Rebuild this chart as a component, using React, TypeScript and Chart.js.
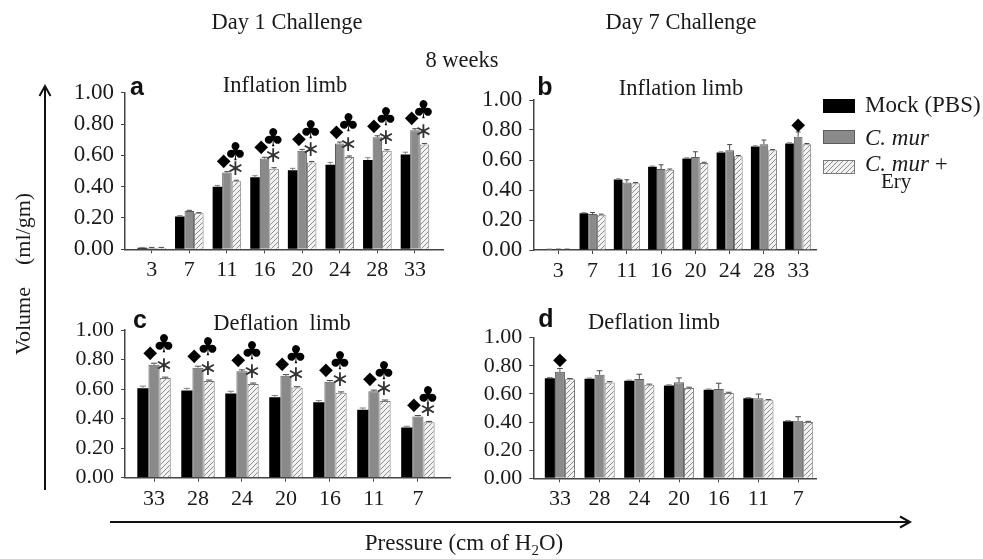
import React, { useEffect, useRef } from 'react';
import { Chart, registerables } from 'chart.js';
Chart.register(...registerables);

const SERIF = "'Liberation Serif', 'Times New Roman', serif";
const SANS = "'Liberation Sans', Arial, sans-serif";

// ---------- data ----------
const inflationCats = ['3', '7', '11', '16', '20', '24', '28', '33'];
const deflationCats = ['33', '28', '24', '20', '16', '11', '7'];
const yTickValues = [0, 0.2, 0.4, 0.6, 0.8, 1.0];
const seriesLabels = ['Mock (PBS)', 'C. mur', 'C. mur + Ery'];

// panel a: Day 1, inflation
const aMock = [0.01, 0.21, 0.40, 0.46, 0.505, 0.54, 0.57, 0.605];
const aCmur = [0.01, 0.245, 0.49, 0.58, 0.63, 0.675, 0.715, 0.76];
const aEry = [0.01, 0.23, 0.435, 0.515, 0.555, 0.59, 0.63, 0.67];
const aMockErr = [0.002, 0.005, 0.008, 0.01, 0.012, 0.015, 0.015, 0.015];
const aCmurErr = [0.002, 0.004, 0.006, 0.008, 0.008, 0.01, 0.01, 0.01];
const aEryErr = [0.002, 0.004, 0.006, 0.006, 0.006, 0.006, 0.006, 0.006];
const aDiamond = [0, 0, 1, 1, 1, 1, 1, 1];
const aClubStar = [0, 0, 1, 1, 1, 1, 1, 1];

// panel b: Day 7, inflation
const bMock = [0.005, 0.245, 0.47, 0.555, 0.61, 0.65, 0.69, 0.71];
const bCmur = [0.005, 0.24, 0.45, 0.54, 0.62, 0.665, 0.705, 0.755];
const bEry = [0.005, 0.235, 0.445, 0.535, 0.58, 0.625, 0.665, 0.705];
const bMockErr = [0.001, 0.004, 0.005, 0.005, 0.005, 0.005, 0.005, 0.005];
const bCmurErr = [0.001, 0.01, 0.018, 0.028, 0.035, 0.038, 0.028, 0.032];
const bEryErr = [0.001, 0.004, 0.005, 0.005, 0.005, 0.005, 0.005, 0.005];
const bDiamond = [0, 0, 0, 0, 0, 0, 0, 1];
const bClubStar = [0, 0, 0, 0, 0, 0, 0, 0];

// panel c: Day 1, deflation
const cMock = [0.605, 0.59, 0.57, 0.545, 0.51, 0.46, 0.34];
const cCmur = [0.765, 0.745, 0.72, 0.69, 0.65, 0.585, 0.415];
const cEry = [0.675, 0.655, 0.635, 0.61, 0.575, 0.52, 0.375];
const cMockErr = [0.015, 0.015, 0.015, 0.012, 0.012, 0.012, 0.008];
const cCmurErr = [0.01, 0.01, 0.01, 0.008, 0.008, 0.008, 0.006];
const cEryErr = [0.006, 0.006, 0.006, 0.006, 0.006, 0.006, 0.006];
const cDiamond = [1, 1, 1, 1, 1, 1, 1];
const cClubStar = [1, 1, 1, 1, 1, 1, 1];

// panel d: Day 7, deflation
const dMock = [0.712, 0.708, 0.693, 0.66, 0.63, 0.569, 0.405];
const dCmur = [0.757, 0.737, 0.707, 0.683, 0.636, 0.569, 0.41];
const dEry = [0.705, 0.682, 0.665, 0.643, 0.607, 0.555, 0.4];
const dMockErr = [0.005, 0.005, 0.005, 0.005, 0.005, 0.005, 0.005];
const dCmurErr = [0.024, 0.028, 0.033, 0.031, 0.04, 0.03, 0.028];
const dEryErr = [0.005, 0.005, 0.005, 0.005, 0.005, 0.005, 0.005];
const dDiamond = [1, 0, 0, 0, 0, 0, 0];
const dClubStar = [0, 0, 0, 0, 0, 0, 0];

type Box = { left: number; top: number; w: number; h: number };
type Area = { left: number; right: number; top: number; bottom: number };

function makePattern(ctx: CanvasRenderingContext2D) {
  const pc = document.createElement('canvas');
  pc.width = 5;
  pc.height = 5;
  const p = pc.getContext('2d')!;
  p.fillStyle = '#f2f2f2';
  p.fillRect(0, 0, 5, 5);
  p.strokeStyle = '#8c8c8c';
  p.lineWidth = 1;
  p.beginPath();
  p.moveTo(0, 5); p.lineTo(5, 0);
  p.moveTo(-1, 1); p.lineTo(1, -1);
  p.moveTo(4, 6); p.lineTo(6, 4);
  p.stroke();
  return ctx.createPattern(pc, 'repeat');
}

function Panel(props: {
  cats: string[];
  series: number[][];
  errs: number[][];
  diamond: number[];
  clubStar: number[];
  box: Box;
  area: Area;
  xMin: number;
  xMax: number;
  yFont: number;
  xFont: number;
}) {
  const ref = useRef<HTMLCanvasElement>(null);
  useEffect(() => {
    const { cats, series, errs, diamond, clubStar, box, area, xMin, xMax, yFont, xFont } = props;
    const canvas = ref.current!;
    const ctx = canvas.getContext('2d')!;
    const pattern = makePattern(ctx);
    const fills = ['#000000', '#8a8a8a', pattern];
    const borders = ['#000000', '#5c5c5c', '#7a7a7a'];

    const marks = {
      id: 'marks',
      afterDatasetsDraw(chart: any) {
        const c = chart.ctx as CanvasRenderingContext2D;
        const ys = chart.scales.y;
        c.save();
        series.forEach((vals, di) => {
          const meta = chart.getDatasetMeta(di);
          meta.data.forEach((bar: any, i: number) => {
            const top = ys.getPixelForValue(vals[i] + errs[di][i]);
            const w = bar.width * 0.28;
            c.strokeStyle = di === 0 ? '#808080' : '#4a4a4a';
            c.lineWidth = 1;
            c.beginPath();
            c.moveTo(bar.x, bar.y);
            c.lineTo(bar.x, top);
            c.moveTo(bar.x - w, top);
            c.lineTo(bar.x + w, top);
            c.stroke();
          });
        });
        const g = chart.getDatasetMeta(1).data;
        const h = chart.getDatasetMeta(2).data;
        c.fillStyle = '#000';
        c.textAlign = 'center';
        c.textBaseline = 'middle';
        cats.forEach((_, i) => {
          const gb = g[i];
          const hb = h[i];
          const both = clubStar[i] === 1;
          if (diamond[i]) {
            const dx = both ? gb.x - gb.width * 0.35 : gb.x;
            c.font = `18px 'DejaVu Sans'`;
            c.fillText('\u25C6', dx, gb.y - 11.5);
          }
          if (both) {
            const cx = hb.x - hb.width * 0.1;
            c.font = `25px 'DejaVu Sans'`;
            c.fillText('\u2663', cx, gb.y - 19);
            c.fillStyle = '#333';
            c.font = `22px 'DejaVu Sans'`;
            c.fillText('\u2217', cx, hb.y - 12);
            c.fillStyle = '#000';
          }
        });
        c.restore();
      },
    };

    const chart = new Chart(canvas, {
      type: 'bar',
      data: {
        datasets: series.map((vals, si) => ({
          label: seriesLabels[si],
          data: vals.map((v, i) => ({ x: i, y: v })),
          backgroundColor: fills[si] as any,
          borderColor: borders[si],
          borderWidth: si === 0 ? 0 : 1,
          categoryPercentage: 0.76,
          barPercentage: 1,
        })),
      },
      options: {
        responsive: false,
        animation: false,
        devicePixelRatio: 1,
        layout: {
          padding: {
            left: 0,
            top: area.top - box.top,
            right: box.left + box.w - area.right,
            bottom: 0,
          },
        },
        plugins: { legend: { display: false }, tooltip: { enabled: false } },
        scales: {
          x: {
            type: 'linear',
            min: xMin,
            max: xMax,
            offset: false,
            afterBuildTicks: (s: any) => {
              s.ticks = cats.map((_, i) => ({ value: i }));
            },
            afterFit: (s: any) => {
              s.height = box.top + box.h - area.bottom;
            },
            ticks: {
              callback: (v: any) => cats[Math.round(Number(v))],
              font: { family: SERIF, size: xFont },
              color: '#1a1a1a',
              padding: 4,
              maxRotation: 0,
              autoSkip: false,
            },
            grid: {
              display: true,
              drawOnChartArea: false,
              drawTicks: true,
              tickLength: 4,
              color: '#444',
              offset: false,
            },
            border: { display: true, color: '#444', width: 1.5 },
          },
          y: {
            min: 0,
            max: 1,
            afterBuildTicks: (s: any) => {
              s.ticks = yTickValues.map((v) => ({ value: v }));
            },
            afterFit: (s: any) => {
              s.width = area.left - box.left;
            },
            ticks: {
              callback: (v: any) => Number(v).toFixed(2),
              font: { family: SERIF, size: yFont },
              color: '#1a1a1a',
              padding: 7,
              autoSkip: false,
            },
            grid: {
              display: true,
              drawOnChartArea: false,
              drawTicks: true,
              tickLength: 4,
              color: '#444',
            },
            border: { display: true, color: '#444', width: 1.5 },
          },
        },
      } as any,
      plugins: [marks as any],
    });
    return () => chart.destroy();
  }, []);
  const { box } = props;
  return (
    <canvas
      ref={ref}
      width={box.w}
      height={box.h}
      style={{ position: 'absolute', left: box.left, top: box.top, width: box.w, height: box.h }}
    />
  );
}

function Txt(props: { x: number; y: number; size?: number; children: any; style?: any }) {
  return (
    <div
      style={{
        position: 'absolute',
        left: props.x,
        top: props.y,
        transform: 'translate(-50%, -50%)',
        whiteSpace: 'pre',
        fontFamily: SERIF,
        fontSize: props.size ?? 22.5,
        color: '#1a1a1a',
        lineHeight: 1,
        ...(props.style || {}),
      }}
    >
      {props.children}
    </div>
  );
}

function Letter(props: { x: number; y: number; children: any }) {
  return (
    <Txt x={props.x} y={props.y} size={25} style={{ fontFamily: SANS, fontWeight: 'bold', color: '#111' }}>
      {props.children}
    </Txt>
  );
}

const legendText = { position: 'absolute', fontFamily: SERIF, fontSize: 23, lineHeight: '22px', color: '#1a1a1a', whiteSpace: 'pre' } as const;

export default function App() {
  return (
    <div style={{ position: 'absolute', left: 0, top: 0, width: 983, height: 559, background: '#fff', overflow: 'hidden' }}>
      <Panel
        cats={inflationCats}
        series={[aMock, aCmur, aEry]}
        errs={[aMockErr, aCmurErr, aEryErr]}
        diamond={aDiamond}
        clubStar={aClubStar}
        box={{ left: 60, top: 70, w: 400, h: 215 }}
        area={{ left: 125, right: 443, top: 92.7, bottom: 249.3 }}
        xMin={-0.71}
        xMax={7.745}
        yFont={23}
        xFont={22}
      />
      <Panel
        cats={inflationCats}
        series={[bMock, bCmur, bEry]}
        errs={[bMockErr, bCmurErr, bEryErr]}
        diamond={bDiamond}
        clubStar={bClubStar}
        box={{ left: 470, top: 70, w: 360, h: 215 }}
        area={{ left: 533.3, right: 816, top: 100, bottom: 250 }}
        xMin={-0.73}
        xMax={7.52}
        yFont={23}
        xFont={22}
      />
      <Panel
        cats={deflationCats}
        series={[cMock, cCmur, cEry]}
        errs={[cMockErr, cCmurErr, cEryErr]}
        diamond={cDiamond}
        clubStar={cClubStar}
        box={{ left: 60, top: 300, w: 400, h: 215 }}
        area={{ left: 125, right: 450, top: 330, bottom: 477.7 }}
        xMin={-0.66}
        xMax={6.73}
        yFont={22}
        xFont={22}
      />
      <Panel
        cats={deflationCats}
        series={[dMock, dCmur, dEry]}
        errs={[dMockErr, dCmurErr, dEryErr]}
        diamond={dDiamond}
        clubStar={dClubStar}
        box={{ left: 470, top: 300, w: 360, h: 215 }}
        area={{ left: 533.3, right: 816, top: 337.7, bottom: 478.3 }}
        xMin={-0.67}
        xMax={6.45}
        yFont={22}
        xFont={22}
      />

      <svg width={983} height={559} style={{ position: 'absolute', left: 0, top: 0, pointerEvents: 'none' }}>
        <line x1={45} y1={490} x2={45} y2={87} stroke="#111" strokeWidth={2} />
        <polyline points="39.5,96 45,86 50.5,96" fill="none" stroke="#111" strokeWidth={2} />
        <line x1={110} y1={522} x2={909} y2={522} stroke="#111" strokeWidth={2} />
        <polyline points="900,516.5 910,522 900,527.5" fill="none" stroke="#111" strokeWidth={2} />
      </svg>

      <Txt x={287} y={22}>Day 1 Challenge</Txt>
      <Txt x={681} y={22}>Day 7 Challenge</Txt>
      <Txt x={462} y={60}>8 weeks</Txt>
      <Txt x={285} y={85}>Inflation limb</Txt>
      <Txt x={681} y={88}>Inflation limb</Txt>
      <Txt x={282} y={323}>{'Deflation  limb'}</Txt>
      <Txt x={654} y={322}>Deflation limb</Txt>
      <Letter x={137} y={86}>a</Letter>
      <Letter x={545} y={86}>b</Letter>
      <Letter x={140} y={319}>c</Letter>
      <Letter x={546} y={318}>d</Letter>

      <Txt x={23} y={274} size={22} style={{ transform: 'translate(-50%, -50%) rotate(-90deg)' }}>
        {'Volume    (ml/gm)'}
      </Txt>
      <Txt x={464} y={544} size={23}>
        Pressure (cm of H<sub style={{ fontSize: 15, verticalAlign: -5 }}>2</sub>O)
      </Txt>

      {/* legend */}
      <div style={{ position: 'absolute', left: 823, top: 99, width: 32, height: 14, background: '#000' }} />
      <div style={{ position: 'absolute', left: 823, top: 130, width: 32, height: 14, background: '#8a8a8a', boxSizing: 'border-box', border: '1px solid #5c5c5c' }} />
      <div
        style={{
          position: 'absolute', left: 823, top: 160, width: 32, height: 14, boxSizing: 'border-box',
          border: '1px solid #7a7a7a',
          background: 'repeating-linear-gradient(135deg, #f2f2f2 0px, #f2f2f2 2.5px, #8c8c8c 2.5px, #8c8c8c 3.5px)',
        }}
      />
      <div style={{ ...legendText, left: 865, top: 94 }}>{seriesLabels[0]}</div>
      <div style={{ ...legendText, left: 865, top: 127, fontStyle: 'italic' }}>{seriesLabels[1]}</div>
      <div style={{ ...legendText, left: 865, top: 153 }}>
        <i>C. mur</i> +
      </div>
      <div style={{ ...legendText, left: 881, top: 170, fontSize: 21 }}>Ery</div>
    </div>
  );
}
